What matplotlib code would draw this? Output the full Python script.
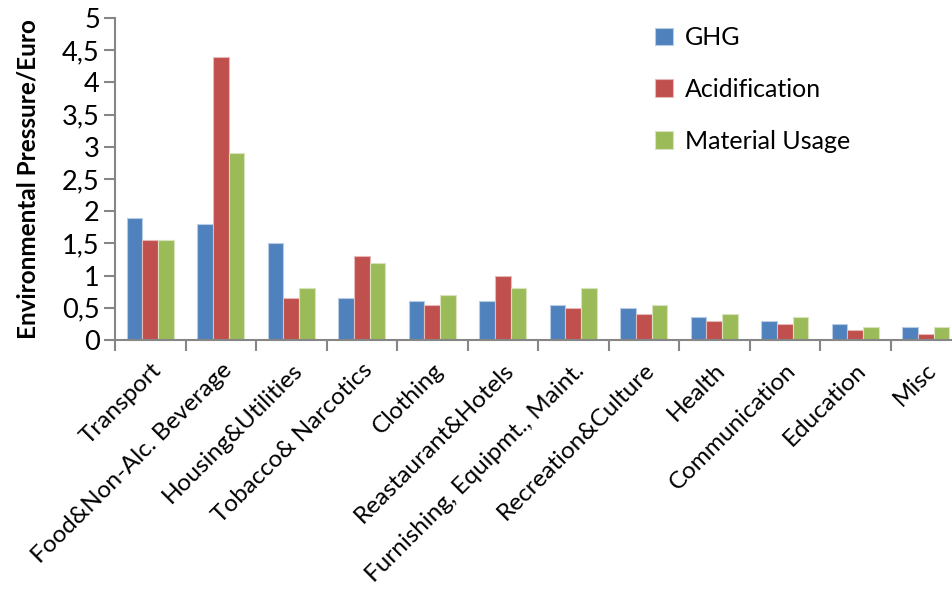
import numpy as np
import matplotlib.pyplot as plt

plt.rcParams['font.family'] = ['Lato', 'DejaVu Sans']

categories = ['Transport', 'Food&Non-Alc. Beverage', 'Housing&Utilities',
              'Tobacco& Narcotics', 'Clothing', 'Reastaurant&Hotels',
              'Furnishing, Equipmt., Maint.', 'Recreation&Culture', 'Health',
              'Communication', 'Education', 'Misc']
ghg = [1.9, 1.8, 1.5, 0.65, 0.6, 0.6, 0.55, 0.5, 0.35, 0.3, 0.25, 0.2]
acid = [1.55, 4.4, 0.65, 1.3, 0.55, 1.0, 0.5, 0.4, 0.3, 0.25, 0.15, 0.1]
material = [1.55, 2.9, 0.8, 1.2, 0.7, 0.8, 0.8, 0.55, 0.4, 0.35, 0.2, 0.2]
series_names = ['GHG', 'Acidification', 'Material Usage']
colors = ['#4F81BD', '#C0504D', '#9BBB59']
edges = ['#B8CCE4', '#E6B9B8', '#D7E4BD']

fig = plt.figure(figsize=(9.52, 6.01), dpi=100)
ax = fig.add_axes([115 / 952, 1 - 340 / 601, (961 - 115) / 952, (340 - 18) / 601])

x = np.arange(len(categories))
w = 0.22
for i, vals in enumerate([ghg, acid, material]):
    ax.bar(x + (i - 1) * w, vals, w, color=colors[i], edgecolor=edges[i],
           linewidth=0.8, label=series_names[i], zorder=2)

ax.set_xlim(-0.5, len(categories) - 0.5)
ax.set_ylim(0, 5)
ax.set_yticks(np.arange(0, 5.01, 0.5))
ax.set_yticklabels([('%g' % v).replace('.', ',') for v in np.arange(0, 5.01, 0.5)],
                   fontsize=19.5)
ax.set_xticks(np.arange(len(categories) + 1) - 0.5, minor=False)
ax.set_xticklabels([])
ax.set_xticks(x, minor=True)
ax.set_xticklabels(categories, minor=True, rotation=45, ha='right',
                   rotation_mode='anchor', fontsize=17.5)
ax.tick_params(axis='x', which='minor', length=0, pad=14)
ax.tick_params(axis='x', which='major', length=8, width=1.5, color='#868686')
ax.tick_params(axis='y', length=8, width=1.5, color='#868686', pad=3)

for s in ['top', 'right']:
    ax.spines[s].set_visible(False)
for s in ['left', 'bottom']:
    ax.spines[s].set_color('#868686')
    ax.spines[s].set_linewidth(1.5)

ax.set_ylabel('Environmental Pressure/Euro', fontsize=17.5, fontweight='bold',
              labelpad=16)

ax.legend(loc='upper left', bbox_to_anchor=(0.612, 1.045), frameon=False,
          fontsize=18, handlelength=0.7, handleheight=0.7, handletextpad=0.5,
          labelspacing=1.15)

fig.savefig('out.png', dpi=100)
